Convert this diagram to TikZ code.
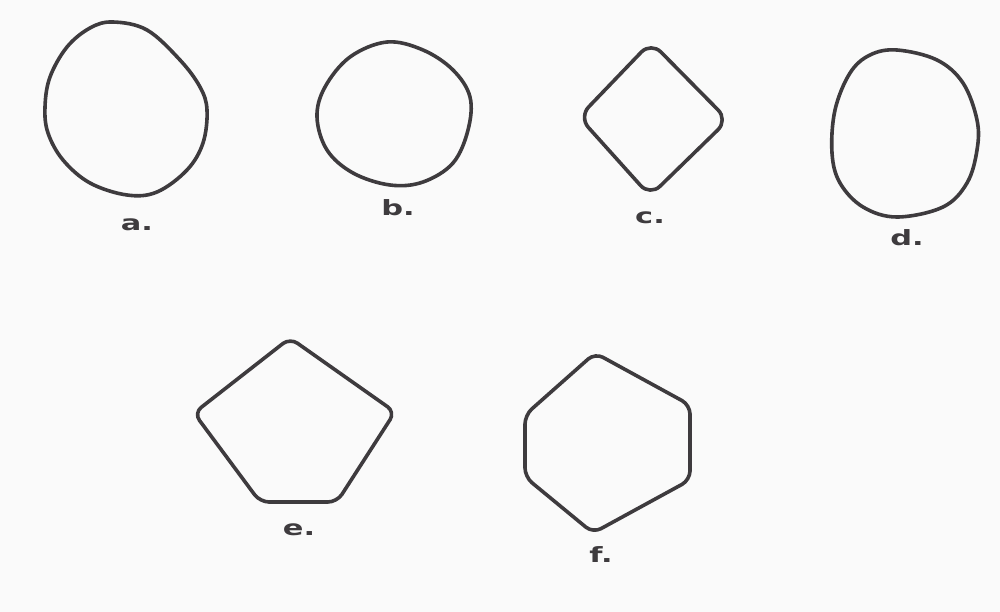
\documentclass[tikz,border=0pt]{standalone}
\usepackage{fontspec}
\setmainfont{DejaVu Sans}
\definecolor{ink}{HTML}{3E3B3E}
\definecolor{paper}{HTML}{FAFAFA}
\tikzset{
  shapeline/.style={draw=ink, line width=3.6pt, line join=round, line cap=round},
  lbl/.style={text=ink, font=\fontsize{21}{24}\selectfont\bfseries, inner sep=0pt, xscale=1.45},
}
\begin{document}
\begin{tikzpicture}[x=1pt,y=-1pt]
\useasboundingbox (0,0) rectangle (1000,612);
\fill[paper] (0,0) rectangle (1000,612);

% a
\draw[shapeline] plot[smooth cycle, tension=0.6] coordinates {
 (113,22) (147,30) (180,60) (200,87) (207,110) (203,143) (187,170) (157,192)
 (127,195) (90,183) (63,160) (48,133) (45,107) (50,77) (67,47) (90,28)};
% b
\draw[shapeline] plot[smooth cycle, tension=0.6] coordinates {
 (387,42) (423,50) (453,70) (470,97) (468,130) (453,163) (423,182) (390,185)
 (353,173) (327,150) (317,117) (325,87) (350,57)};
% c
\draw[shapeline, rounded corners=14pt] (651,42) -- (728,120) -- (650,196) -- (579,117) -- cycle;
% d
\draw[shapeline] plot[smooth cycle, tension=0.6] coordinates {
 (897,50) (937,60) (963,83) (977,120) (977,150) (967,183) (943,207) (897,217)
 (863,207) (840,183) (832,153) (835,110) (850,73) (870,55)};
% e
\draw[shapeline, rounded corners=9pt] (290,338) -- (395,412) -- (337,502) -- (260,502) -- (194,413) -- cycle;
% f
\draw[shapeline, rounded corners=9pt] (595,353) -- (690,405) -- (690,480) -- (593,533) -- (525,477) -- (525,415) -- cycle;

\node[lbl] (la) at (137,225) {a.};
\node[lbl] (lb) at (398,208) {b.};
\node[lbl] (lc) at (650,218) {c.};
\node[lbl] (ld) at (907,238) {d.};
\node[lbl] (le) at (299,530) {e.};
\node[lbl] (lf) at (601,555) {f.};
\end{tikzpicture}
\end{document}
